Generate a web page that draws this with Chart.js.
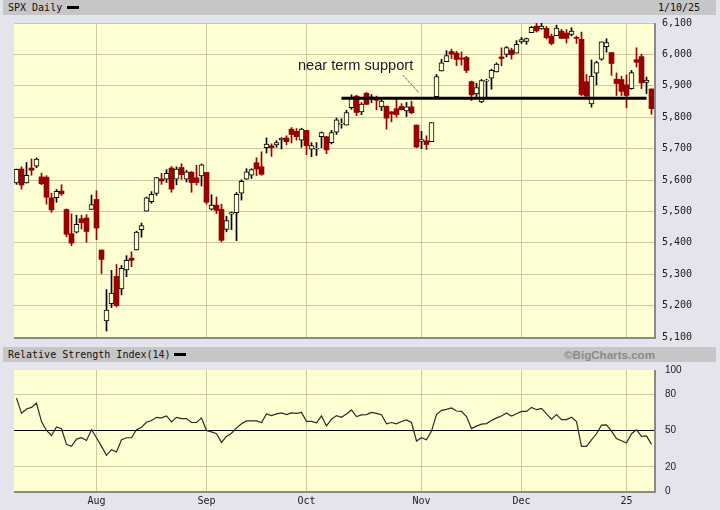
<!DOCTYPE html>
<html lang="en">
<head>
<meta charset="UTF-8" />
<script src="https://cdn.jsdelivr.net/npm/chart.js"></script>
<title>SPX Daily</title>
<style>
  body { margin: 0; background: #e4e4ec; }
  .page {
    position: relative;
    width: 720px;
    height: 510px;
    overflow: hidden;
    font-family: 'DejaVu Sans Mono', monospace;
    font-size: 10px;
    color: #111;
  }
  .band {
    position: absolute;
    left: 3px;
    width: 713px;
    height: 15px;
    line-height: 15px;
    background: #c6c6c8;
  }
  .band span { position: absolute; top: 0; }
  .key { position: absolute; top: 6px; width: 12px; height: 3px; background: #000; }
  #bigcharts {
    font-family: 'Liberation Sans', Arial, sans-serif;
    font-weight: bold;
    font-size: 11.6px;
    color: #8a8a8a;
  }
  canvas { position: absolute; left: 0; }
  #price { top: 0; }
  #rsi { top: 353px; }
</style>
</head>
<body>
<div class="page">
  <canvas id="price" width="720" height="351"></canvas>
  <canvas id="rsi" width="720" height="157"></canvas>
  <div class="band" style="top:0">
    <span style="left:5px">SPX Daily</span>
    <div class="key" style="left:64px"></div>
    <span style="left:655px">1/10/25</span>
  </div>
  <div class="band" style="top:347px">
    <span style="left:5px">Relative Strength Index(14)</span>
    <div class="key" style="left:171px"></div>
    <span id="bigcharts" style="left:561px">©BigCharts.com</span>
  </div>
</div>
<script>
  // trading days, 7/10/24 .. 1/10/25
  const dates = [
    '7/10','7/11','7/12','7/15','7/16','7/17','7/18','7/19','7/22','7/23','7/24','7/25','7/26','7/29','7/30','7/31',
    '8/1','8/2','8/5','8/6','8/7','8/8','8/9','8/12','8/13','8/14','8/15','8/16','8/19','8/20','8/21','8/22','8/23','8/26','8/27','8/28','8/29','8/30',
    '9/3','9/4','9/5','9/6','9/9','9/10','9/11','9/12','9/13','9/16','9/17','9/18','9/19','9/20','9/23','9/24','9/25','9/26','9/27','9/30',
    '10/1','10/2','10/3','10/4','10/7','10/8','10/9','10/10','10/11','10/14','10/15','10/16','10/17','10/18','10/21','10/22','10/23','10/24','10/25','10/28','10/29','10/30','10/31',
    '11/1','11/4','11/5','11/6','11/7','11/8','11/11','11/12','11/13','11/14','11/15','11/18','11/19','11/20','11/21','11/22','11/25','11/26','11/27','11/29',
    '12/2','12/3','12/4','12/5','12/6','12/9','12/10','12/11','12/12','12/13','12/16','12/17','12/18','12/19','12/20','12/23','12/24','12/26','12/27','12/30','12/31',
    '1/2','1/3','1/6','1/7','1/8','1/10'
  ];

  const opens = [
    5591,5635,5591,5638,5644,5610,5609,5543,5544,5565,5506,5429,5434,5477,5479,5506,
    5538,5377,5151,5206,5293,5253,5314,5351,5377,5442,5501,5531,5557,5603,5603,5638,5603,5640,5603,5625,5607,5613,
    5624,5507,5520,5507,5443,5491,5496,5558,5603,5615,5655,5642,5703,5709,5712,5728,5734,5762,5755,5727,
    5758,5698,5698,5738,5738,5719,5752,5778,5775,5830,5867,5817,5876,5859,5858,5833,5835,5817,5827,5834,5820,5833,5775,
    5723,5725,5722,5865,5947,5977,6009,6004,5986,5990,5913,5874,5849,5915,5924,5944,5992,6000,6014,6004,
    6040,6041,6069,6090,6081,6083,6058,6060,6074,6068,6064,6053,6048,5913,5842,5940,5985,6025,6006,5921,5920,
    5903,5891,5983,5993,5911,5890
  ];
  const highs = [
    5635,5642,5656,5667,5670,5622,5614,5558,5570,5585,5508,5492,5488,5488,5490,5552,
    5566,5377,5251,5312,5331,5328,5359,5371,5437,5463,5546,5563,5608,5621,5633,5643,5642,5652,5631,5627,5647,5651,
    5624,5553,5546,5523,5484,5498,5560,5601,5636,5636,5671,5690,5734,5715,5725,5735,5741,5767,5764,5765,
    5758,5719,5719,5753,5739,5758,5797,5795,5822,5871,5870,5846,5879,5872,5867,5863,5835,5818,5863,5843,5847,5851,5775,
    5755,5741,5783,5936,5984,6012,6017,6010,6008,5994,5915,5908,5920,5921,5953,5973,6021,6025,6020,6044,
    6054,6052,6089,6100,6099,6089,6065,6093,6080,6079,6085,6058,6071,5936,5982,5978,6040,6050,6006,5941,5930,
    5935,5949,6021,6001,5928,5890
  ];
  const lows = [
    5586,5571,5590,5615,5639,5585,5523,5497,5529,5551,5419,5391,5431,5444,5402,5506,
    5410,5302,5119,5194,5196,5234,5292,5324,5377,5418,5501,5526,5551,5586,5592,5561,5585,5602,5594,5561,5584,5581,
    5523,5504,5493,5403,5435,5442,5407,5536,5602,5605,5614,5615,5686,5675,5704,5699,5712,5718,5727,5704,
    5681,5674,5678,5703,5684,5715,5745,5765,5775,5825,5805,5808,5840,5846,5824,5821,5762,5785,5800,5823,5802,5811,5703,
    5700,5697,5722,5865,5947,5977,5987,5964,5966,5942,5853,5866,5846,5861,5889,5944,5964,5992,5985,6004,
    6035,6032,6069,6071,6080,6049,6030,6060,6051,6036,6059,6035,5868,5866,5832,5903,5981,6007,5933,5869,5869,
    5830,5889,5960,5891,5875,5809
  ];
  const closes = [
    5634,5584,5615,5631,5667,5588,5545,5505,5564,5556,5427,5399,5459,5464,5436,5522,
    5447,5347,5186,5240,5200,5319,5344,5344,5434,5455,5543,5554,5608,5597,5621,5571,5635,5617,5626,5592,5592,5648,
    5529,5520,5503,5408,5471,5496,5554,5596,5626,5633,5635,5618,5714,5703,5719,5733,5722,5745,5738,5762,
    5709,5710,5700,5751,5696,5751,5792,5780,5815,5860,5815,5842,5841,5865,5854,5851,5797,5810,5808,5824,5833,5814,5705,
    5729,5713,5783,5929,5973,5996,6001,5984,5985,5949,5871,5894,5917,5917,5949,5969,5987,6022,5999,6032,
    6047,6050,6086,6075,6090,6053,6035,6084,6051,6051,6074,6051,5872,5867,5931,5974,6040,6038,5971,5907,5882,
    5869,5942,5975,5909,5918,5827
  ];

  const rsi = [
    76.8,64.2,67.8,69.1,72.7,57.4,50.0,45.9,53.0,51.4,38.5,36.9,42.9,44.0,41.8,50.6,
    44.0,36.9,29.5,34.2,32.2,42.3,44.0,44.0,50.6,52.7,56.8,58.2,60.9,60.4,62.0,57.1,60.9,59.8,59.8,56.6,56.6,60.4,
    50.0,48.9,47.3,40.2,45.1,47.8,52.2,55.5,57.9,57.9,57.9,56.6,63.7,62.3,63.7,64.5,63.1,64.5,64.2,65.0,
    57.6,57.6,56.3,62.0,53.8,59.3,62.3,60.9,63.7,67.0,61.5,62.9,63.1,65.0,64.2,63.1,55.5,56.6,55.5,57.4,58.7,56.6,41.3,
    44.0,42.3,49.5,63.1,66.7,67.5,68.6,66.1,65.8,61.5,51.6,53.6,55.2,55.7,58.2,60.4,62.0,64.5,62.0,63.9,
    65.8,65.8,69.1,67.2,68.3,63.7,59.3,63.1,59.0,59.0,60.9,57.4,36.9,36.9,42.3,47.3,54.4,54.6,49.5,43.4,41.5,
    39.6,47.3,50.6,45.1,45.6,38.5
  ];

  const priceMin = 5100;
  const priceMax = 6100;
  const priceStep = 100;
  const rsiTicks = [0, 20, 50, 80, 100];
  const monthStarts = ['8/1', '9/3', '10/1', '11/1', '12/2', '1/2'];
  const monthLabels = ['Aug', 'Sep', 'Oct', 'Nov', 'Dec', '25'];

  const supportLevel = 5860;
  const supportFrom = '10/10';
  const supportTo = '1/8';

  // look
  const plotBg = '#ffffd4';
  const gridTan = '#c9c99c';
  const red = '#990000';
  const tickFont = { family: 'DejaVu Sans Mono', size: 10 };

  const up = closes.map((c, i) => c >= opens[i]);
  const wicks = dates.map((d, i) => [lows[i], highs[i]]);
  const bodies = dates.map((d, i) => [opens[i], closes[i]]);
  const i0 = dates.indexOf(supportFrom), i1 = dates.indexOf(supportTo);
  const support = dates.map((d, i) => (i >= i0 && i <= i1 ? supportLevel : null));

  const isMonth = (i) => monthStarts.includes(dates[i]);
  const monthGrid = (ctx) => (ctx.tick && isMonth(ctx.tick.value) ? gridTan : 'rgba(0,0,0,0)');

  const plotBack = {
    id: 'plotBack',
    beforeDraw(chart) {
      const { ctx, chartArea: a } = chart;
      ctx.save();
      ctx.fillStyle = plotBg;
      ctx.fillRect(a.left, a.top, a.right - a.left, a.bottom - a.top);
      ctx.restore();
    },
  };

  const frame = {
    id: 'frame',
    afterDraw(chart) {
      const { ctx, chartArea: a } = chart;
      ctx.save();
      ctx.fillStyle = '#8a8a8a';
      ctx.fillRect(a.left, a.bottom, a.right - a.left + 2, 2);
      ctx.fillRect(a.right, a.top, 2, a.bottom - a.top + 2);
      ctx.restore();
    },
  };

  const note = {
    id: 'note',
    afterDatasetsDraw(chart) {
      const { ctx, scales: { x, y } } = chart;
      ctx.save();
      ctx.font = '14.6px "Liberation Sans", Arial, sans-serif';
      ctx.fillStyle = '#1a1a30';
      ctx.fillText('near term support', x.getPixelForValue(56.3), y.getPixelForValue(5950));
      ctx.strokeStyle = '#222';
      ctx.lineWidth = 1;
      ctx.setLineDash([1, 1]);
      ctx.beginPath();
      ctx.moveTo(x.getPixelForValue(77.3), y.getPixelForValue(5934));
      ctx.lineTo(x.getPixelForValue(80.5), y.getPixelForValue(5877));
      ctx.stroke();
      ctx.restore();
    },
  };

  new Chart(document.getElementById('price'), {
    type: 'bar',
    data: {
      labels: dates,
      datasets: [
        {
          type: 'line',
          data: support,
          borderColor: '#000',
          borderWidth: 3,
          pointRadius: 0,
          spanGaps: true,
          order: 0,
        },
        {
          data: bodies,
          grouped: false,
          barThickness: 5,
          minBarLength: 1,
          backgroundColor: up.map((u) => (u ? plotBg : red)),
          borderColor: up.map((u) => (u ? '#000' : red)),
          borderWidth: up.map((u) => (u ? 1 : 0)),
          borderSkipped: false,
          order: 1,
        },
        {
          data: wicks,
          grouped: false,
          barThickness: 1,
          backgroundColor: up.map((u) => (u ? '#000' : red)),
          order: 2,
        },
      ],
    },
    options: {
      responsive: false,
      animation: false,
      layout: { padding: { top: 23, left: 14, right: 0, bottom: 0 } },
      plugins: { legend: { display: false }, tooltip: { enabled: false } },
      scales: {
        x: {
          offset: true,
          grid: { offset: false, color: monthGrid, drawTicks: false },
          border: { display: false },
          ticks: { display: false, autoSkip: false },
          afterFit: (s) => { s.height = 0; },
        },
        y: {
          position: 'right',
          min: priceMin,
          max: priceMax,
          ticks: {
            stepSize: priceStep,
            padding: 8,
            font: tickFont,
            color: '#1a1a1a',
            callback: (v) => v.toLocaleString('en-US'),
          },
          grid: { color: gridTan, drawTicks: false },
          border: { display: false },
          afterFit: (s) => { s.width = 66; },
        },
      },
    },
    plugins: [plotBack, frame, note],
  });

  new Chart(document.getElementById('rsi'), {
    type: 'line',
    data: {
      labels: dates,
      datasets: [{
        data: rsi,
        borderColor: '#2a2a2a',
        borderWidth: 1.2,
        pointRadius: 0,
        tension: 0,
      }],
    },
    options: {
      responsive: false,
      animation: false,
      layout: { padding: { top: 7, left: 14, right: 0, bottom: 0 } },
      plugins: { legend: { display: false }, tooltip: { enabled: false } },
      scales: {
        x: {
          offset: true,
          grid: { offset: false, color: monthGrid, drawTicks: false },
          border: { display: false },
          ticks: {
            autoSkip: false,
            maxRotation: 0,
            padding: 4,
            font: tickFont,
            color: '#1a1a1a',
            callback: (v, i) => {
              const k = monthStarts.indexOf(dates[i]);
              return k >= 0 ? monthLabels[k] : '';
            },
          },
          afterFit: (s) => { s.height = 19; },
        },
        y: {
          position: 'right',
          min: 0,
          max: 100,
          afterBuildTicks: (s) => { s.ticks = rsiTicks.map((v) => ({ value: v })); },
          ticks: {
            padding: 11,
            font: { family: 'Liberation Sans', size: 10 },
            color: '#1a1a1a',
          },
          grid: {
            drawTicks: false,
            color: (ctx) => {
              const v = ctx.tick && ctx.tick.value;
              if (v === 50) return '#000';
              if (v === 0 || v === 100) return 'rgba(0,0,0,0)';
              return gridTan;
            },
          },
          border: { display: false },
          afterFit: (s) => { s.width = 66; },
        },
      },
    },
    plugins: [plotBack, frame],
  });
</script>
</body>
</html>
